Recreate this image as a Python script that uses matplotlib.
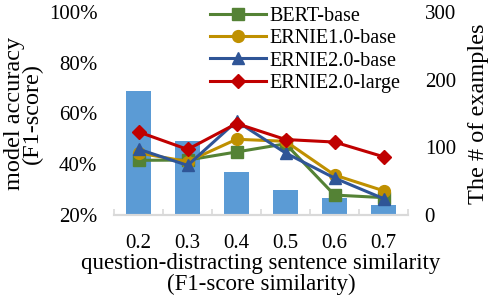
import matplotlib
matplotlib.use("Agg")
import matplotlib.pyplot as plt
import numpy as np

plt.rcParams['font.family'] = ['Liberation Serif', 'DejaVu Serif']

categories = ["0.2", "0.3", "0.4", "0.5", "0.6", "0.7"]
counts = [183, 109, 63, 37, 25, 14]
bert_base = [41.5, 41.6, 44.8, 48.0, 27.8, 26.8]
ernie1_base = [44.4, 41.0, 49.8, 49.0, 35.7, 29.5]
ernie2_base = [45.9, 39.5, 56.9, 44.4, 34.5, 26.4]
ernie2_large = [52.7, 45.8, 56.0, 49.7, 48.7, 42.9]

series = [
    ("BERT-base", bert_base, "#548235", "s"),
    ("ERNIE1.0-base", ernie1_base, "#BF9000", "o"),
    ("ERNIE2.0-base", ernie2_base, "#2F5597", "^"),
    ("ERNIE2.0-large", ernie2_large, "#C00000", "D"),
]

fig = plt.figure(figsize=(4.94, 2.98), dpi=100)
ax = fig.add_axes([0.231, 0.279, 0.595, 0.681])
ax2 = ax.twinx()

x = np.arange(len(categories))
ax2.bar(x, counts, width=0.5, color="#5B9BD5", zorder=1)
ax2.set_ylim(0, 300)
ax2.set_yticks([0, 100, 200, 300])

for name, vals, col, mk in series:
    ms = 8.5 if mk != "D" else 7.5
    ax.plot(x, vals, color=col, marker=mk, markersize=ms, linewidth=2.2, label=name)

ax.set_ylim(20, 100)
ax.set_yticks([20, 40, 60, 80, 100])
ax.set_yticklabels([f"{v}%" for v in [20, 40, 60, 80, 100]])
ax.set_xlim(-0.5, 5.5)
ax.set_xticks(x)
ax.set_xticklabels(categories)
ax.set_xticks(np.arange(-0.5, 6, 1), minor=True)

ax.set_zorder(ax2.get_zorder() + 1)
ax.patch.set_visible(False)

for a in (ax, ax2):
    for s in ("top", "left", "right"):
        a.spines[s].set_visible(False)
    a.spines["bottom"].set_color("#D9D9D9")
    a.spines["bottom"].set_linewidth(1.5)

tfs = 15
lfs = 16.5
yfs = 17.5
ax.tick_params(axis="y", length=0, pad=12, labelsize=tfs)
ax2.tick_params(axis="y", length=0, pad=12, labelsize=tfs)
ax.tick_params(axis="x", which="major", length=0, pad=14, labelsize=tfs)
ax.tick_params(axis="x", which="minor", length=4, width=1.2, color="#D9D9D9", direction="in")
ax2.tick_params(axis="x", length=0)

ax.set_xlabel("question-distracting sentence similarity\n(F1-score similarity)", fontsize=lfs, labelpad=0, linespacing=0.95)
ax.set_ylabel("model accuracy\n(F1-score)", fontsize=yfs, labelpad=4, linespacing=0.85)
ax2.set_ylabel("The # of examples", fontsize=yfs, labelpad=9)

leg = ax.legend(loc="upper left", bbox_to_anchor=(0.299, 1.065), frameon=False,
                fontsize=14.5, handlelength=2.8, handletextpad=0.15,
                labelspacing=0.16, borderaxespad=0)

fig.savefig("out.png", dpi=100)
